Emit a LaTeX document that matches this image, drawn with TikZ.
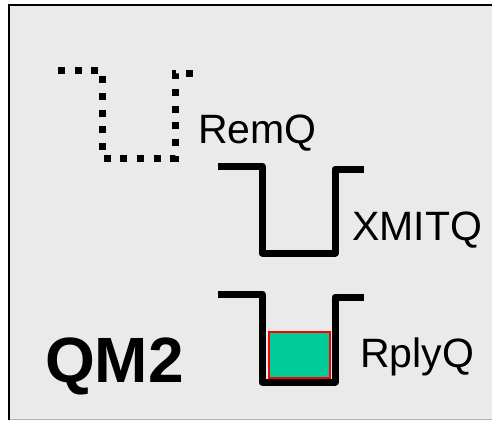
\documentclass[tikz,border=0pt]{standalone}
\usepackage{fontspec}
\setmainfont{Liberation Sans}
\definecolor{bggray}{HTML}{EAEAEA}
\definecolor{msggreen}{HTML}{00CC99}
\begin{document}
\begin{tikzpicture}[x=1pt,y=-1pt,
  queue/.style={line width=7pt, line join=round},
  dotq/.style={line width=7pt, dash pattern=on 7pt off 9.7pt},
  lbl/.style={font=\fontsize{41}{41}\selectfont, anchor=base west, inner sep=0pt},
  qmlbl/.style={font=\bfseries\fontsize{64}{64}\selectfont, anchor=base west, inner sep=0pt},
  msg/.style={fill=msggreen, draw=red, line width=1.6pt}]
\useasboundingbox (0,0) rectangle (492,421);
\fill[white] (0,0) rectangle (492,421);
% background panel
\fill[bggray] (10,5) rectangle (492,419);
\draw[black, line width=2pt] (9,420) -- (9,5) -- (492,5);
\draw[gray!60, line width=1pt] (10,419.5) -- (492,419.5);
% remote queue (dotted)
\draw[dotq] (58,70) -- (102,70) -- (102,158) -- (175,158) -- (175,73) -- (197,73);
\node[lbl] (remq) at (198,143) {RemQ};
% transmission queue
\draw[queue] (218,166) -- (262,166) -- (262,253) -- (335,253) -- (335,169) -- (364,169);
\node[lbl] (xmitq) at (352,240) {XMITQ};
% reply queue
\draw[queue] (218,294) -- (262,294) -- (262,382) -- (335,382) -- (335,297) -- (364,297);
\node[msg, minimum width=61pt, minimum height=46pt, inner sep=0pt, anchor=north west] (msg) at (268,331) {};
\node[lbl] (rplyq) at (360,367) {RplyQ};
% queue manager label
\node[qmlbl] (qm2) at (45,382) {QM2};
\end{tikzpicture}
\end{document}
